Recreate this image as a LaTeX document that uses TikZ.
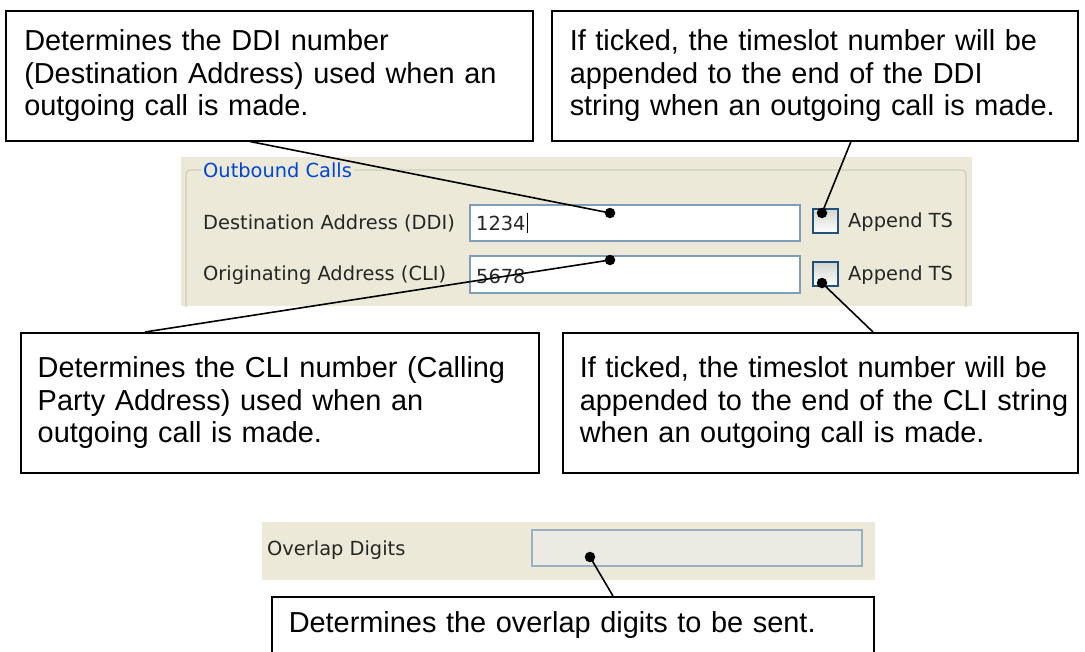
\documentclass[tikz,border=0pt]{standalone}
\usepackage{fontspec}
\setmainfont{Liberation Sans}
\newfontfamily\uifont{DejaVu Sans}
\usetikzlibrary{positioning}
\definecolor{xpbeige}{HTML}{ECE9D8}
\definecolor{xpfield}{HTML}{7F9DB9}
\definecolor{xpgroup}{HTML}{D0D0BF}
\definecolor{xptitle}{HTML}{0046D5}
\definecolor{xpcheck}{HTML}{1C5180}
\definecolor{xpcheckfill}{HTML}{D4D4CE}
\definecolor{xpdisabled}{HTML}{EBEBE4}

\begin{document}
\begin{tikzpicture}[x=1pt,y=-1pt]
\tikzset{
	callout/.style={rectangle, draw=black, line width=1.5pt, fill=white, inner sep=0pt, align=left, anchor=north west, font=\fontsize{28.9}{32.5}\selectfont},
	uilabel/.style={anchor=west, inner sep=0pt, font=\uifont\fontsize{19.4}{22}\selectfont, text=black!85},
	uifield/.style={draw=xpfield, fill=white, line width=1.2pt},
	uicheck/.style={draw=xpcheck, line width=1.2pt, top color=xpcheckfill, bottom color=white},
	leader/.style={line width=1.6pt},
	pin/.style={circle, fill=black, inner sep=0pt, minimum size=10.5pt},
}
\clip (0,0) rectangle (1085,651);
\fill[white] (0,0) rectangle (1085,651);

% outbound calls panel
\fill[xpbeige] (181,157) rectangle (972,306);
\begin{scope}
	\clip (181,157) rectangle (972,306);
	\draw[xpgroup, line width=1.2pt, rounded corners=4pt] (186,170) rectangle (966,330);
\end{scope}
\node[uilabel, fill=xpbeige, text=xptitle, inner xsep=2pt] (title) at (201,170) {Outbound Calls};
\node[uilabel] (ddilabel) at (203,223) {Destination Address (DDI)};
\node[uilabel] (clilabel) at (203,275) {Originating Address (CLI)};
\draw[uifield] (470,205) rectangle (800,241);
\draw[uifield] (470,256) rectangle (800,293);
\node[uilabel] (ddivalue) at (476,223) {1234};
\draw[line width=1pt] ([xshift=2pt,yshift=10pt]ddivalue.east) -- ([xshift=2pt,yshift=-10pt]ddivalue.east);
\node[uilabel] (clivalue) at (476,276) {5678};
\draw[uicheck] (813,209) rectangle (838,233);
\draw[uicheck] (813,262) rectangle (838,286);
\node[uilabel] (tsddi) at (848,222) {Append TS};
\node[uilabel] (tscli) at (848,275) {Append TS};

% overlap digits panel
\fill[xpbeige] (262,522) rectangle (875,580);
\node[uilabel] (overlaplabel) at (267,550) {Overlap Digits};
\draw[draw=xpfield!80, fill=xpdisabled, line width=1.2pt] (532,530) rectangle (862,566);

% callouts
\node[callout, minimum width=527, minimum height=130, text width=490] (ddibox) at (5,10)
	{Determines the DDI number\\\mbox{(Destination Address) used when an}\\outgoing call is made.};
\node[callout, minimum width=526, minimum height=130, text width=490] (tsddibox) at (551,10)
	{If ticked, the timeslot number will be\\appended to the end of the DDI\\\mbox{string when an outgoing call is made.}};
\node[callout, minimum width=518, minimum height=140, text width=484] (clibox) at (20,332)
	{\mbox{Determines the CLI number (Calling}\\Party Address) used when an\\outgoing call is made.};
\node[callout, minimum width=515, minimum height=140, text width=481] (tsclibox) at (562,332)
	{\mbox{If ticked, the timeslot number will be}\\\mbox{appended to the end of the CLI string}\\when an outgoing call is made.};
\node[callout, minimum width=602, minimum height=56, text width=568] (overlapbox) at (271,596)
	{Determines the overlap digits to be sent.};

% pins
\node[pin] (pinddi) at (610,213) {};
\node[pin] (pincli) at (610,260) {};
\node[pin] (pinchkddi) at (822,213) {};
\node[pin] (pinchkcli) at (822,283) {};
\node[pin] (pinoverlap) at (590,557) {};

\draw[leader] ([xshift=245pt]ddibox.south west) -- (pinddi.center);
\draw[leader] ([xshift=300pt]tsddibox.south west) -- (pinchkddi.center);
\draw[leader] ([xshift=125pt]clibox.north west) -- (pincli.center);
\draw[leader] ([xshift=311pt]tsclibox.north west) -- (pinchkcli.center);
\draw[leader] ([xshift=342pt]overlapbox.north west) -- (pinoverlap.center);
\end{tikzpicture}
\end{document}
